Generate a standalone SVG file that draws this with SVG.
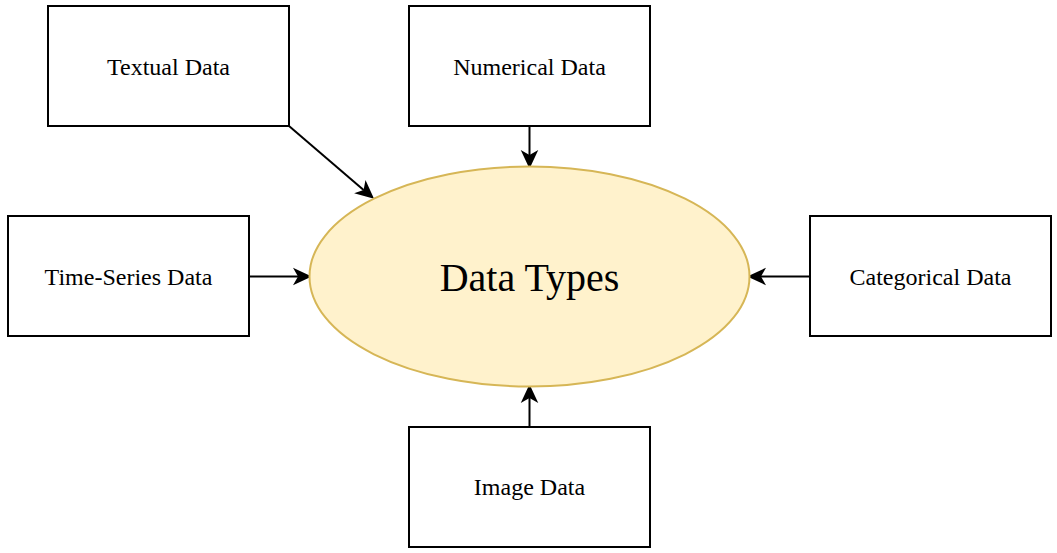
<svg xmlns="http://www.w3.org/2000/svg" width="1057" height="553" viewBox="0 0 1057 553">
<style>
.box{fill:#ffffff;stroke:#000000;stroke-width:2}
.lbl{font-family:"Liberation Serif","Times New Roman",serif;font-size:24px;fill:#000000;text-anchor:middle;dominant-baseline:central}
.edge{fill:none;stroke:#000000;stroke-width:2}
</style>
<defs>
<marker id="arr" markerUnits="userSpaceOnUse" markerWidth="20" markerHeight="20" viewBox="0 -8 16 16" refX="4" refY="0" orient="auto">
<path d="M0,-7 L15,0 L0,7 L4,0 Z" fill="#000000"/>
</marker>
</defs>
<rect width="1057" height="553" fill="#ffffff"/>
<g id="connectors">
<line class="edge" x1="289" y1="126" x2="363.6" y2="189.9" marker-end="url(#arr)"/>
<line class="edge" x1="529.5" y1="126" x2="529.5" y2="155" marker-end="url(#arr)"/>
<line class="edge" x1="249" y1="276.5" x2="298" y2="276.5" marker-end="url(#arr)"/>
<line class="edge" x1="810" y1="276.5" x2="761" y2="276.5" marker-end="url(#arr)"/>
<line class="edge" x1="529.5" y1="427" x2="529.5" y2="398" marker-end="url(#arr)"/>
</g>
<g id="data-types">
<ellipse cx="529.5" cy="276.5" rx="220" ry="110" fill="#fff2cc" stroke="#d6b656" stroke-width="2"/>
<text class="lbl" x="529.5" y="277" style="font-size:40px">Data Types</text>
</g>
<g id="textual">
<rect class="box" x="48" y="6" width="241" height="120"/>
<text class="lbl" x="168.5" y="67">Textual Data</text>
</g>
<g id="numerical">
<rect class="box" x="409" y="6" width="241" height="120"/>
<text class="lbl" x="529.5" y="67">Numerical Data</text>
</g>
<g id="timeseries">
<rect class="box" x="8" y="216" width="241" height="120"/>
<text class="lbl" x="128.5" y="277">Time-Series Data</text>
</g>
<g id="categorical">
<rect class="box" x="810" y="216" width="241" height="120"/>
<text class="lbl" x="930.5" y="277">Categorical Data</text>
</g>
<g id="image">
<rect class="box" x="409" y="427" width="241" height="120"/>
<text class="lbl" x="529.5" y="487">Image Data</text>
</g>
</svg>
